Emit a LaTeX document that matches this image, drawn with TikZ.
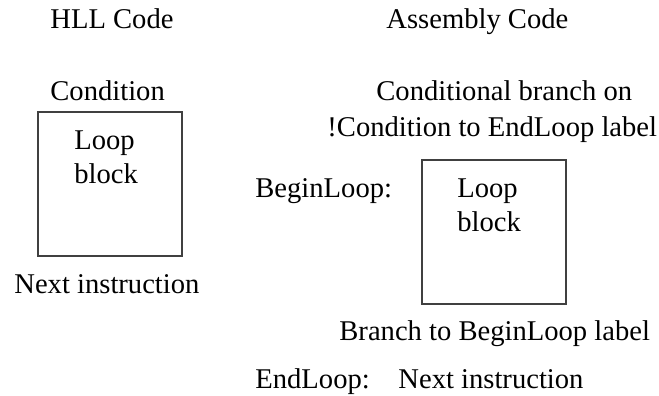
\documentclass[tikz,border=0pt]{standalone}
\usepackage{fontspec}
\setmainfont{Liberation Serif}
\usetikzlibrary{positioning}

\tikzset{
  txt/.style={inner sep=0pt, anchor=base west, font=\fontsize{14.3}{17}\selectfont},
  blk/.style={draw=black!75, line width=0.6pt, minimum size=72pt, inner sep=0pt},
  blktxt/.style={txt, align=left, anchor=north west}
}

\begin{document}
\begin{tikzpicture}[x=0.5pt,y=-0.5pt]
   \useasboundingbox (0,0) rectangle (659,396);

   % headings
   \node[txt] (hll) at (50,28) {HLL Code};
   \node[txt] (asm) at (386,28) {Assembly Code};

   % HLL side
   \node[txt] (cond) at (50,100) {Condition};
   \node[blk] (lbox) at (110,184) {};
   \node[blktxt] (lloop) at (74,130) {Loop\\block};
   \node[txt] (lnext) at (14,293) {Next instruction};

   % assembly side
   \node[txt] (abr) at (376,100) {Conditional branch on};
   \node[txt] (abrb) at (327,136) {!Condition to EndLoop label};
   \node[txt] (begin) at (255,197) {BeginLoop:};
   \node[blk] (rbox) at (494,232) {};
   \node[blktxt] (rloop) at (457,178) {Loop\\block};
   \node[txt] (back) at (339,340) {Branch to BeginLoop label};
   \node[txt] (endl) at (255,388) {EndLoop:};
   \node[txt] (rnext) at (398,388) {Next instruction};
\end{tikzpicture}
\end{document}
